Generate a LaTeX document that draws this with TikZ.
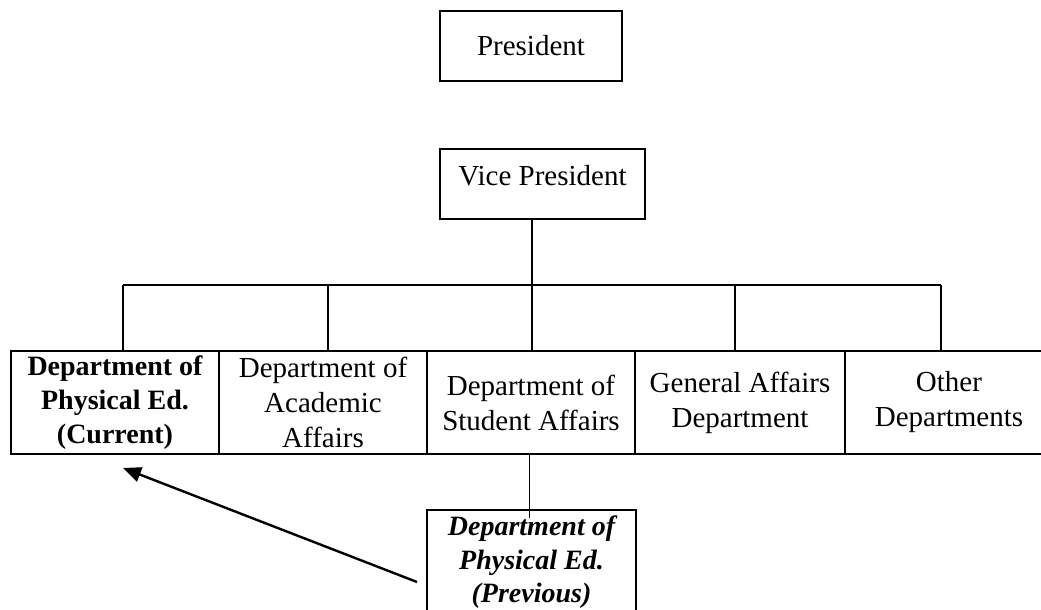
\documentclass[tikz,border=0pt]{standalone}
\usepackage{fontspec}
\setmainfont{Liberation Serif}
\usetikzlibrary{arrows.meta,calc}
\begin{document}
\begin{tikzpicture}[x=1pt,y=-1pt,
  box/.style={draw,line width=1.9pt,rectangle,inner sep=0pt,align=center,
    font=\fontsize{29}{35}\selectfont},
  dept/.style={box,minimum height=103pt},
  link/.style={line width=1.9pt}]
\useasboundingbox (0,0) rectangle (1041,610);
\clip (0,0) rectangle (1041,610);
% top boxes
\node[box,minimum width=182pt,minimum height=70pt] (pres) at (531,46) {President};
\node[box,minimum width=205pt,minimum height=70pt,text depth=18pt] (vp) at (542.5,184) {Vice President};
% departments
\node[dept,minimum width=208pt,font=\fontsize{28}{34}\selectfont\bfseries] (d1) at (115,402.5) {Department of\\Physical Ed.\\(Current)};
\node[dept,minimum width=208pt] (d2) at (323,402.5) {Department of\\Academic\\Affairs};
\node[dept,minimum width=208pt] (d3) at (531,402.5) {Department of\\Student Affairs};
\node[dept,minimum width=210pt] (d4) at (740,402.5) {General Affairs\\Department};
\node[dept,minimum width=208pt] (d5) at (949,402.5) {Other\\Departments};
% previous
\node[box,anchor=north,minimum width=209pt,inner ysep=6pt,
  font=\fontsize{28}{33.5}\selectfont\bfseries\itshape] (prev) at (531.5,509)
  {Department of\\Physical Ed.\\(Previous)};
% bus
\coordinate (b1) at (123,285);
\coordinate (b2) at (328,285);
\coordinate (b3) at (532,285);
\coordinate (b4) at (735,285);
\coordinate (b5) at (941,285);
\draw[link] (b1) -- (b5);
\draw[link] (b3 |- vp.south) -- (b3);
\draw[link] (b1) -- (b1 |- d1.north);
\draw[link] (b2) -- (b2 |- d2.north);
\draw[link] (b3) -- (b3 |- d3.north);
\draw[link] (b4) -- (b4 |- d4.north);
\draw[link] (b5) -- (b5 |- d5.north);
% student affairs to previous
\coordinate (pin) at ($(prev.north)+(-2,9)$);
\draw[link] (pin |- d3.south) -- (pin);
% arrow
\coordinate (tail) at (417,582);
\coordinate (tip) at (123,468);
\draw[line width=2.4pt,-{Triangle[length=18pt,width=15pt]}] (tail) -- (tip);
\end{tikzpicture}
\end{document}
